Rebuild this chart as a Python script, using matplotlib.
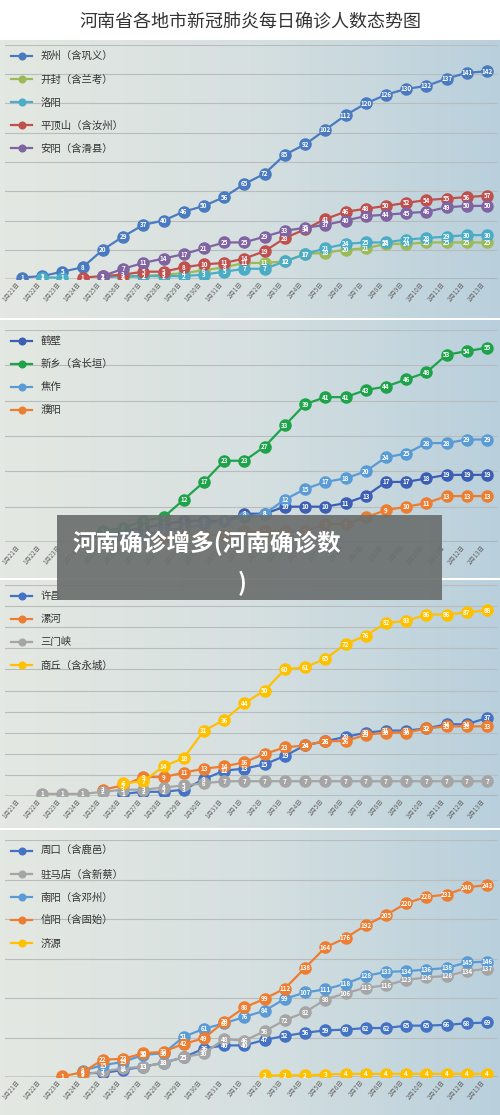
import numpy as np
import matplotlib.pyplot as plt
from matplotlib.colors import LinearSegmentedColormap

plt.rcParams['font.family'] = ['Noto Sans CJK SC', 'DejaVu Sans']

N = None
dates = ['1月%d日' % d for d in range(21, 32)] + ['2月%d日' % d for d in range(1, 14)]

# panel 1
zhengzhou = [1, 2, 5, 8, 20, 29, 37, 40, 46, 50, 56, 65, 72, 85, 92, 102, 112, 120, 126, 130, 132, 137, 141, 142]
kaifeng = [N, N, N, N, N, 1, 2, 3, 4, 6, 8, 11, 11, 12, 17, 18, 20, 21, 24, 24, 25, 25, 25, 25]
luoyang = [N, 1, 1, N, 1, 2, 2, 2, 2, 3, 5, 7, 7, 12, 17, 21, 24, 25, 25, 27, 28, 29, 30, 30]
pingdingshan = [N, N, N, 1, 2, 3, 5, 5, 8, 10, 11, 14, 19, 28, 34, 41, 46, 48, 50, 52, 54, 55, 56, 57]
anyang = [N, N, N, N, 2, 7, 11, 14, 17, 21, 25, 25, 29, 33, 35, 37, 40, 43, 44, 45, 46, 49, 50, 50]
# panel 2
hebi = [N, N, N, 1, 2, 3, 4, 5, 6, 6, 6, 8, 8, 10, 10, 10, 11, 13, 17, 17, 18, 19, 19, 19]
xinxiang = [N, N, N, N, 3, 4, 6, 7, 12, 17, 23, 23, 27, 33, 39, 41, 41, 43, 44, 46, 48, 53, 54, 55]
jiaozuo = [N, N, N, N, N, 1, 2, 3, 4, 5, 6, 7, 8, 12, 15, 17, 18, 20, 24, 25, 28, 28, 29, 29]
puyang = [N, N, N, N, N, N, N, 1, 2, 2, 2, 3, 3, 3, 3, 5, 5, 7, 9, 10, 11, 13, 13, 13]
# panel 3
xuchang = [N, N, N, N, N, 1, 2, 2, 3, 8, 12, 13, 15, 19, 24, 26, 28, 30, 31, 31, 32, 34, 34, 37]
luohe = [N, N, N, N, 3, 5, 9, 9, 11, 13, 14, 16, 20, 23, 24, 26, 26, 29, 30, 30, 32, 33, 33, 33]
sanmenxia = [N, 1, 1, 1, 2, 3, 3, 4, 5, 6, 7, 7, 7, 7, 7, 7, 7, 7, 7, 7, 7, 7, 7, 7]
shangqiu = [N, N, N, N, N, 6, 7, 14, 18, 31, 36, 44, 50, 60, 61, 65, 72, 76, 82, 83, 86, 86, 87, 88]
# panel 4
zhoukou = [N, N, N, 5, 5, 9, 13, 18, 25, 36, 40, 40, 47, 52, 56, 59, 60, 62, 62, 65, 65, 66, 68, 69]
zhumadian = [N, N, N, 3, 7, 11, 13, 18, 25, 30, 48, 46, 58, 72, 82, 98, 106, 113, 116, 123, 126, 128, 134, 137]
nanyang = [N, N, N, 8, 15, 19, 28, 30, 51, 61, 68, 76, 84, 99, 107, 111, 118, 128, 133, 134, 136, 138, 145, 146]
xinyang = [N, N, 1, 6, 22, 23, 30, 32, 42, 49, 70, 88, 99, 112, 138, 164, 176, 192, 205, 220, 228, 231, 240, 243]
jiyuan = [N] * 12 + [2, 2, 2, 3, 4, 4, 4, 4, 4, 4, 4, 4]

panels = [
    (279, 45, 160, 20, [('郑州（含巩义）', zhengzhou, '#4a7bc0'), ('开封（含兰考）', kaifeng, '#9bbb59'),
                        ('洛阳', luoyang, '#4bacc6'), ('平顶山（含汝州）', pingdingshan, '#c0504d'),
                        ('安阳（含滑县）', anyang, '#8064a2')]),
    (542, 330, 60, 10, [('鹤壁', hebi, '#3c5fb4'), ('新乡（含长垣）', xinxiang, '#1fa34a'),
                        ('焦作', jiaozuo, '#5b9bd5'), ('濮阳', puyang, '#ed7d31')]),
    (796, 585, 100, 10, [('许昌', xuchang, '#4472c4'), ('漯河', luohe, '#ed7d31'),
                         ('三门峡', sanmenxia, '#a5a5a5'), ('商丘（含永城）', shangqiu, '#ffc000')]),
    (1077, 840, 300, 50, [('周口（含鹿邑）', zhoukou, '#4472c4'), ('驻马店（含新蔡）', zhumadian, '#a5a5a5'),
                          ('南阳（含邓州）', nanyang, '#5b9bd5'), ('信阳（含固始）', xinyang, '#ed7d31'),
                          ('济源', jiyuan, '#ffc000')]),
]

W, H = 500, 1115
fig = plt.figure(figsize=(W / 100, H / 100), dpi=100)
fig.patch.set_facecolor('white')
fig.text(0.5, 1 - 22 / H, '河南省各地市新冠肺炎每日确诊人数态势图', ha='center', va='center', fontsize=13, color='#333333')

cmap = LinearSegmentedColormap.from_list('bg', ['#e4e8e2', '#d6e0e0', '#b9d0dc'])
bounds = [(40, 318), (320, 578), (580, 828), (830, 1115)]
x = np.arange(len(dates))
for (y0, ytop, ymax, step, series), (b0, b1) in zip(panels, bounds):
    bgax = fig.add_axes([0, 1 - b1 / H, 1, (b1 - b0) / H])
    bgax.imshow(np.linspace(0, 1, 100)[None, :], aspect='auto', cmap=cmap, extent=[0, 1, 0, 1])
    bgax.axis('off')
    ax = fig.add_axes([5 / W, 1 - y0 / H, 493 / W, (y0 - ytop) / H])
    ax.patch.set_alpha(0)
    ax.set_xlim(-0.84, 23.54)
    ax.set_ylim(0, ymax)
    for g in np.arange(step, ymax + 0.1, step):
        ax.axhline(g, color='#b8bcbc', lw=0.8, zorder=0)
    ax.axhline(0, color='#555555', lw=1, zorder=1)
    for name, vals, c in series:
        v = np.array([np.nan if a is None else a for a in vals], dtype=float)
        ax.plot(x, v, '-o', color=c, lw=1.6, ms=8, label=name, zorder=3)
        for xi, vi in zip(x, v):
            if not np.isnan(vi):
                ax.text(xi, vi, '%d' % vi, ha='center', va='center', fontsize=4.5,
                        color='white', fontweight='bold', zorder=4)
    for s in ax.spines.values():
        s.set_visible(False)
    ax.set_yticks([])
    ax.set_xticks(x)
    ax.set_xticklabels(dates, rotation=50, ha='right', fontsize=4.5, color='#666666')
    ax.tick_params(axis='x', length=0, pad=1)
    leg = ax.legend(loc='upper left', frameon=False, fontsize=7.5, labelspacing=1.25,
                    handlelength=2, borderaxespad=0.2, markerscale=0.6)
    for t in leg.get_texts():
        t.set_color('#333333')

# overlay caption box
ov = fig.add_axes([57 / W, 1 - 600 / H, 385 / W, 85 / H])
ov.set_facecolor('#6b6f6e')
ov.patch.set_alpha(0.92)
ov.set_xticks([]); ov.set_yticks([])
for s in ov.spines.values():
    s.set_visible(False)
ov.text(0.04, 0.66, '河南确诊增多(河南确诊数', fontsize=17, fontweight='bold', color='white',
        va='center', ha='left', transform=ov.transAxes)
ov.text(0.47, 0.2, ')', fontsize=17, fontweight='bold', color='white',
        va='center', ha='left', transform=ov.transAxes)

fig.savefig('out.png', dpi=100)
